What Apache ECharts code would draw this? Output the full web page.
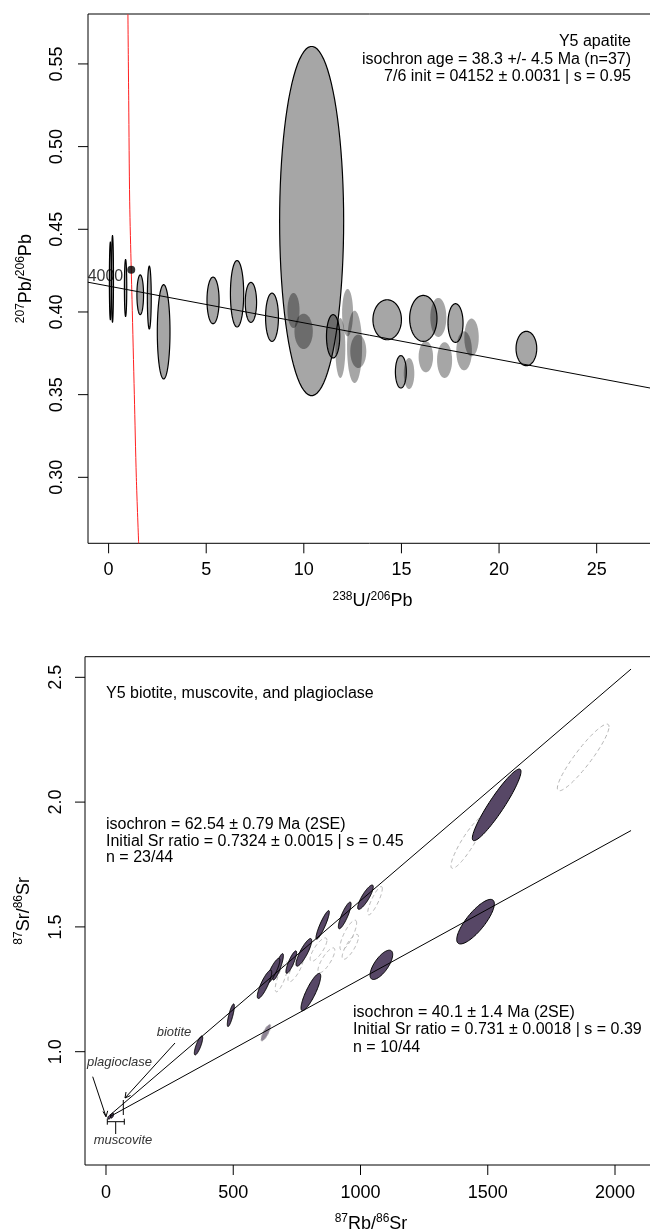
<!DOCTYPE html>
<html><head><meta charset="utf-8">
<script src="https://cdn.jsdelivr.net/npm/echarts@6/dist/echarts.min.js"></script>
<style>html,body{margin:0;padding:0;background:#fff}#c{width:650px;height:1229px}</style>
</head><body><div id="c"></div>
<script>
// ---------- DATA : top panel (apatite, Tera-Wasserburg) ----------
const topXTicks = [0, 5, 10, 15, 20, 25];
const topYTicks = [0.30, 0.35, 0.40, 0.45, 0.50, 0.55];
// [x, y, half-width x, half-height y, rho]
const apatiteOutlined = [
  [0.09, 0.4188, 0.05, 0.0234, 0],
  [0.20, 0.4200, 0.05, 0.0262, 0],
  [0.87, 0.4145, 0.06, 0.0172, 0],
  [1.62, 0.4104, 0.17, 0.0120, 0],
  [2.085, 0.4087, 0.10, 0.0190, 0],
  [2.82, 0.3880, 0.325, 0.0285, 0],
  [5.35, 0.4070, 0.31, 0.0141, 0],
  [6.58, 0.4110, 0.34, 0.0201, 0],
  [7.29, 0.4058, 0.29, 0.0121, 0],
  [8.37, 0.3968, 0.33, 0.0146, 0],
  [10.40, 0.4550, 1.64, 0.1056, 0],
  [11.50, 0.3853, 0.34, 0.0131, 0],
  [14.27, 0.3953, 0.73, 0.0121, 0],
  [16.12, 0.3961, 0.70, 0.0139, 0],
  [17.77, 0.3933, 0.385, 0.0117, 0],
  [14.97, 0.3638, 0.28, 0.0098, 0],
  [21.40, 0.3779, 0.53, 0.0104, 0]
];
const apatiteFaint = [
  [9.47, 0.4009, 0.31, 0.0106, 0],
  [9.99, 0.3883, 0.47, 0.0107, 0],
  [12.24, 0.3996, 0.28, 0.0143, 0],
  [11.87, 0.3782, 0.256, 0.0181, 0],
  [12.60, 0.3789, 0.385, 0.0219, 0],
  [12.79, 0.3762, 0.41, 0.0101, 0],
  [16.89, 0.3967, 0.41, 0.0118, 0],
  [18.59, 0.3846, 0.37, 0.0114, 0],
  [18.21, 0.3765, 0.40, 0.0118, 0],
  [16.25, 0.3729, 0.37, 0.0094, 0],
  [17.21, 0.3709, 0.385, 0.0108, 0],
  [15.39, 0.3628, 0.27, 0.0094, 0]
];
const concordia = [[0.99, 0.580], [1.03, 0.528], [1.08, 0.467], [1.16, 0.4255], [1.20, 0.4075], [1.318, 0.350], [1.42, 0.300], [1.54, 0.260]];
const concordiaPoint = [[1.16, 0.4255]];
const concordiaLabel = '4000';
const apatiteIsochron = [[-1.06, 0.4180], [28.1, 0.3532]];
const topTexts = ['Y5 apatite', 'isochron age = 38.3 +/- 4.5 Ma (n=37)', '7/6 init = 04152 \u00b1 0.0031 | s = 0.95'];

// ---------- DATA : bottom panel (Rb-Sr) ----------
const botXTicks = [0, 500, 1000, 1500, 2000];
const botYTicks = [1.0, 1.5, 2.0, 2.5];
const rbsrAccepted = [
  [1535, 1.989, 95.6, 0.1435, 0.93],
  [1452, 1.521, 73.9, 0.0893, 0.80],
  [1019.6, 1.619, 30.6, 0.0487, 0.85],
  [938, 1.546, 24.9, 0.0534, 0.85],
  [851.3, 1.508, 26.2, 0.0573, 0.90],
  [1082, 1.348, 44.5, 0.0587, 0.70],
  [805, 1.239, 38.7, 0.0748, 0.85],
  [777.4, 1.398, 30.8, 0.0554, 0.85],
  [728, 1.359, 21, 0.045, 0.85],
  [676, 1.340, 21, 0.053, 0.85],
  [657, 1.324, 26, 0.050, 0.85],
  [622.8, 1.270, 28.3, 0.0567, 0.85],
  [490.5, 1.146, 13.8, 0.0454, 0.80],
  [363.5, 1.025, 16.4, 0.038, 0.80],
  [14, 0.738, 7, 0.008, 0.5],
  [24, 0.744, 6, 0.010, 0.5]
];
const rbsrRejected = [
  [1875, 2.179, 101.5, 0.1335, 0.92],
  [1421, 1.838, 65.5, 0.1034, 0.90],
  [1057, 1.605, 28.7, 0.0567, 0.85],
  [952, 1.467, 32.7, 0.060, 0.80],
  [835, 1.409, 33, 0.047, 0.80],
  [866, 1.366, 33, 0.050, 0.80],
  [960, 1.420, 32, 0.050, 0.80],
  [690, 1.300, 25, 0.060, 0.80],
  [745, 1.330, 30, 0.050, 0.80]
];
const rbsrGreyed = [[628, 1.076, 19, 0.033, 0.8]];
const isochronA = [[15.7, 0.746], [2063, 2.533]];
const isochronB = [[15.7, 0.740], [2063, 1.886]];
const botTitle = 'Y5 biotite, muscovite, and plagioclase';
const textA = ['isochron = 62.54 \u00b1 0.79 Ma (2SE)', 'Initial Sr ratio = 0.7324 \u00b1 0.0015 | s = 0.45', 'n = 23/44'];
const textB = ['isochron = 40.1 \u00b1 1.4 Ma (2SE)', 'Initial Sr ratio = 0.731 \u00b1 0.0018 | s = 0.39', 'n = 10/44'];
const mineralLabels = ['biotite', 'plagioclase', 'muscovite'];

// ---------- CHART ----------
const FONT = '"Liberation Sans", Arial, Helvetica, sans-serif';
const TOP_X = [-1.055, 28.09], TOP_Y = [0.2601, 0.5802];
const BOT_X = [-82.5, 2165], BOT_Y = [0.546, 2.5826];
const chart = echarts.init(document.getElementById('c'), null, {renderer: 'canvas'});

function ellipseSeries(data, gi, style) {
  return {
    type: 'custom', xAxisIndex: gi, yAxisIndex: gi, data: data, silent: true, clip: true,
    renderItem: function (params, api) {
      const cx = api.value(0), cy = api.value(1), sx = api.value(2), sy = api.value(3), r = api.value(4);
      const q = Math.sqrt(1 - r * r);
      const pts = [];
      for (let i = 0; i < 90; i++) {
        const t = i / 90 * 2 * Math.PI;
        pts.push(api.coord([cx + sx * Math.cos(t), cy + sy * (r * Math.cos(t) + q * Math.sin(t))]));
      }
      return {type: 'polygon', shape: {points: pts}, style: Object.assign({}, style)};
    }
  };
}
// tick marks drawn through the axis scales (outside the box, 10px long)
function tickSeries(ticks, gi, dir, fixed) {
  return {
    type: 'custom', xAxisIndex: gi, yAxisIndex: gi, data: ticks.map(v => [v]), silent: true, clip: false, z: 20,
    renderItem: function (params, api) {
      const v = api.value(0);
      const p = dir === 'x' ? api.coord([v, fixed]) : api.coord([fixed, v]);
      const shape = dir === 'x' ? {x1: p[0], y1: p[1], x2: p[0], y2: p[1] + 10} : {x1: p[0] - 10, y1: p[1], x2: p[0], y2: p[1]};
      return {type: 'line', shape: shape, style: {stroke: '#000', lineWidth: 1}};
    }
  };
}
function lineSeries(data, gi, color, smooth) {
  return {type: 'line', xAxisIndex: gi, yAxisIndex: gi, data: data, symbol: 'none', silent: true,
    smooth: smooth || false, lineStyle: {color: color, width: 1}, z: 5};
}
const supRich = {
  s: {fontSize: 12, fontFamily: FONT, verticalAlign: 'top', lineHeight: 12, color: '#000'},
  n: {fontSize: 18, fontFamily: FONT, lineHeight: 22, color: '#000'}
};
function xAx(gi, mm, ticks, name, margin, gap) {
  return {type: 'value', gridIndex: gi, min: mm[0], max: mm[1],
    axisLine: {show: false}, splitLine: {show: false}, axisTick: {show: false},
    axisLabel: {customValues: ticks, fontSize: 18, fontFamily: FONT, color: '#000', margin: margin,
      formatter: function (v) { return String(v); }},
    name: name, nameLocation: 'middle', nameGap: gap, nameTextStyle: {rich: supRich}};
}
function yAx(gi, mm, ticks, name, dec, margin, gap) {
  return {type: 'value', gridIndex: gi, min: mm[0], max: mm[1],
    axisLine: {show: false}, splitLine: {show: false}, axisTick: {show: false},
    axisLabel: {customValues: ticks, fontSize: 18, fontFamily: FONT, color: '#000', margin: margin, rotate: 90,
      formatter: function (v) { return Number(v).toFixed(dec); }},
    name: name, nameLocation: 'middle', nameRotate: 90, nameGap: gap, nameTextStyle: {rich: supRich}};
}
function txt(s, x, y, align, size, extra) {
  return {type: 'text', silent: true, z: 100, style: Object.assign({text: s, x: x, y: y, textAlign: align, align: align,
    textVerticalAlign: 'middle', verticalAlign: 'middle', fontSize: size, fontFamily: FONT, fill: '#000'}, extra || {})};
}
function seg(x1, y1, x2, y2, color) {
  return {type: 'line', silent: true, z: 100, shape: {x1: x1, y1: y1, x2: x2, y2: y2}, style: {stroke: color || '#000', lineWidth: 1}};
}

const graphics = [];
topTexts.forEach((s, i) => graphics.push(txt(s, 631, 41.7 + i * 17.5, 'right', 16)));
graphics.push(txt(botTitle, 106, 694, 'left', 16));
textA.forEach((s, i) => graphics.push(txt(s, 106, 825 + i * 16.5, 'left', 16)));
textB.forEach((s, i) => graphics.push(txt(s, 353, 1012.7 + i * 17.3, 'left', 16)));
const it = {fontStyle: 'italic', fill: '#333'};
graphics.push(txt(mineralLabels[0], 174, 1032, 'center', 13, it));
graphics.push(txt(mineralLabels[1], 119.5, 1062.7, 'center', 13, it));
graphics.push(txt(mineralLabels[2], 123, 1140.7, 'center', 13, it));
graphics.push(seg(175, 1043, 125, 1098));
graphics.push(seg(125, 1098, 126, 1092));
graphics.push(seg(125, 1098, 130.5, 1095.5));
graphics.push(seg(92.7, 1076.7, 106, 1116.7));
graphics.push(seg(106, 1116.7, 103, 1111.5));
graphics.push(seg(106, 1116.7, 107.7, 1110.8));
graphics.push(seg(107.3, 1121.7, 124.3, 1121.7));
graphics.push(seg(107.3, 1118.7, 107.3, 1124.7));
graphics.push(seg(124.3, 1118.7, 124.3, 1124.7));
graphics.push(seg(115.7, 1122, 115.7, 1134));
graphics.push(seg(123.3, 1100, 123.3, 1115));

const option = {
  animation: false,
  backgroundColor: '#fff',
  grid: [
    {left: 88, top: 14, width: 569, height: 529.3, show: true, borderColor: '#000', borderWidth: 1,
      backgroundColor: 'transparent', containLabel: false, outerBoundsMode: 'none'},
    {left: 85, top: 656.7, width: 572, height: 508.3, show: true, borderColor: '#000', borderWidth: 1,
      backgroundColor: 'transparent', containLabel: false, outerBoundsMode: 'none'}
  ],
  xAxis: [
    xAx(0, TOP_X, topXTicks, '{s|238}{n|U/}{s|206}{n|Pb}', 18, 47),
    xAx(1, BOT_X, botXTicks, '{s|87}{n|Rb/}{s|86}{n|Sr}', 19, 48)
  ],
  yAxis: [
    yAx(0, TOP_Y, topYTicks, '{s|207}{n|Pb/}{s|206}{n|Pb}', 2, 22, 51),
    yAx(1, BOT_Y, botYTicks, '{s|87}{n|Sr/}{s|86}{n|Sr}', 1, 20, 50)
  ],
  graphic: graphics,
  series: [
    tickSeries(topXTicks, 0, 'x', TOP_Y[0]),
    tickSeries(topYTicks, 0, 'y', TOP_X[0]),
    tickSeries(botXTicks, 1, 'x', BOT_Y[0]),
    tickSeries(botYTicks, 1, 'y', BOT_X[0]),
    ellipseSeries(apatiteOutlined, 0, {fill: 'rgba(0,0,0,0.35)', stroke: '#000', lineWidth: 1.2}),
    ellipseSeries(apatiteFaint, 0, {fill: 'rgba(0,0,0,0.35)', stroke: 'none', lineWidth: 0}),
    lineSeries(concordia, 0, '#ff2020', 0.3),
    lineSeries(apatiteIsochron, 0, '#000'),
    {type: 'scatter', xAxisIndex: 0, yAxisIndex: 0, data: concordiaPoint, symbol: 'circle', symbolSize: 8,
      itemStyle: {color: '#000'}, silent: true, z: 6,
      label: {show: true, formatter: concordiaLabel, position: 'left', distance: 4, offset: [0, 7], fontSize: 16, fontFamily: FONT, color: '#000'}},
    ellipseSeries(rbsrRejected, 1, {fill: 'none', stroke: '#b4b4b4', lineWidth: 1, lineDash: [4, 3]}),
    ellipseSeries(rbsrGreyed, 1, {fill: '#8f8595', stroke: '#b4b4b4', lineWidth: 1, lineDash: [3, 2]}),
    lineSeries(isochronA, 1, '#000'),
    lineSeries(isochronB, 1, '#000'),
    ellipseSeries(rbsrAccepted, 1, {fill: '#574766', stroke: '#000', lineWidth: 1})
  ]
};
chart.setOption(option);
</script>
</body></html>
